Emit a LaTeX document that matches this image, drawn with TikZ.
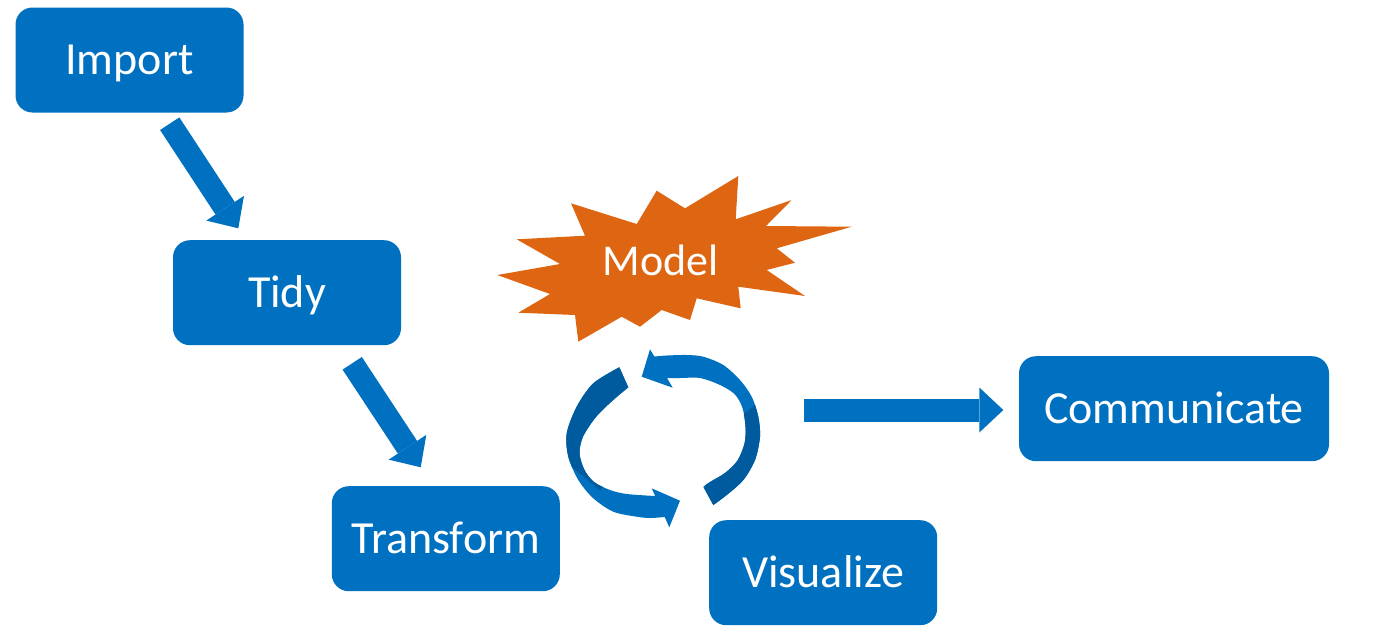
\documentclass[tikz,border=0pt]{standalone}
\usepackage{fontspec}
\setmainfont{Carlito}
\usetikzlibrary{arrows.meta}
\definecolor{blueC}{RGB}{0,112,192}
\definecolor{blueD}{RGB}{0,90,158}
\definecolor{orangeC}{RGB}{222,102,18}
\tikzset{
  box/.style={fill=blueC, rounded corners=17pt, minimum width=228pt, minimum height=105pt,
    inner sep=0pt, text=white, font=\fontsize{46}{46}\selectfont, text height=29.6pt, text depth=0pt},
  fatarrow/.style={draw=blueC, line width=23pt, -{Triangle[length=24pt,width=45pt,line width=0pt]}},
}
\begin{document}
\begin{tikzpicture}[x=1pt,y=-1pt]
\useasboundingbox (0,0) rectangle (1396,633);
% boxes
\node[box] (import) at (129.5,60) {Import};
\node[box] (tidy) at (287,292.7) {Tidy};
\node[box] (transform) at (445.8,538.7) {Transform};
\node[box] (visualize) at (823.2,572.7) {Visualize};
\node[box, minimum width=310pt] (communicate) at (1174,408.7) {Communicate};
% model starburst
\fill[orangeC] (497.3,275) -- (560,264) -- (516.7,239.3) -- (585,235.7) -- (571,203.3)
  -- (636.7,224) -- (656.7,190.7) -- (685,208.3) -- (738.3,176) -- (735.7,219.3)
  -- (791.7,200) -- (766,226) -- (851.7,226.7) -- (776.7,248.3) -- (795,262.7)
  -- (766.7,270) -- (805,296) -- (738.3,286.7) -- (740.7,308.3) -- (696.7,298.3)
  -- (690,320) -- (661.7,310) -- (640,326.7) -- (621.7,316.7) -- (578.3,341.7)
  -- (575,315) -- (518.3,312.7) -- (550,294) -- cycle;
\node[text=white, font=\fontsize{44}{44}\selectfont, text height=28.3pt, text depth=0pt, inner sep=0pt]
  (model) at (660.8,261.7) {Model};
% straight arrows
\coordinate (a1s) at (169.7,123.7);
\coordinate (a1e) at (238.3,228.3);
\coordinate (a2s) at (352.2,363.3);
\coordinate (a2e) at (420.7,467.3);
\coordinate (a3s) at (804,410);
\coordinate (a3e) at (1003.3,410);
\draw[fatarrow] (a1s) -- (a1e);
\draw[fatarrow] (a2s) -- (a2e);
\draw[fatarrow] (a3s) -- (a3e);
% cycle arrows
\def\cycApath{plot[smooth] coordinates {(619.3,367.3) (593.3,383.3) (576.7,406.7) (566.7,433.3) (568.3,456.7) (578.3,480) (593.3,498.3) (613.3,511.7) (636.7,516.7) (650,518) (664.7,517)}
  -- (669.3,527.3) -- (680,500.7) -- (651.7,488.3) -- (655.2,496)
  -- plot[smooth] coordinates {(655.2,496) (626.7,494) (610,490) (594,482) (584.5,470) (579.5,453.3) (583,436.7) (595.5,417.5) (611.5,401.5) (628.3,387.3)} -- cycle}
\def\cycBpath{plot[smooth] coordinates {(713.3,505) (726.7,495) (743.3,480) (755,460) (760,436.7) (758.3,416.7) (751.7,396.7) (740,380) (723.3,365) (703.3,356.7) (686.7,355) (667,355.5) (654.3,356.5)}
  -- (650,349.3) -- (641.7,376.7) -- (672.7,387.7) -- (667,378)
  -- plot[smooth] coordinates {(667,378) (680,378) (700,378) (719,384.5) (734.5,394) (742.5,408) (745.5,427) (744.5,443.5) (737.5,460.5) (725,473) (710,482) (703.3,486.7)} -- cycle}
\fill[blueC] \cycApath;
\begin{scope}
  \clip (545,340) -- (645,340) -- (645,440) -- (600,490.5) -- (545,444) -- cycle;
  \fill[blueD] \cycApath;
\end{scope}
\fill[blueC] \cycBpath;
\begin{scope}
  \clip (780,385.6) -- (780,540) -- (690,540) -- (720,432.2) -- cycle;
  \fill[blueD] \cycBpath;
\end{scope}
\end{tikzpicture}
\end{document}
